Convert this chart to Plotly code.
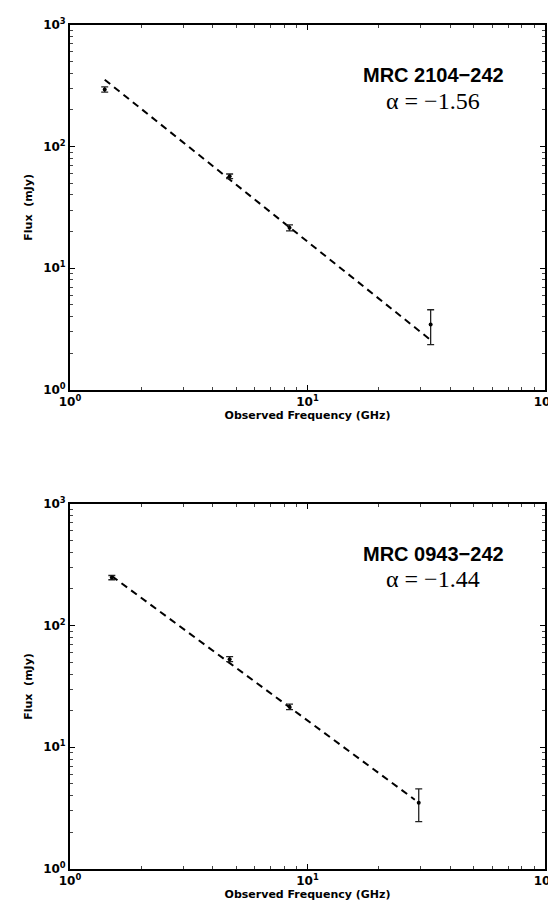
import plotly.graph_objects as go

# ---- data ----
top_name = "MRC 2104\u2212242"
top_alpha_label = "\u03b1 = \u22121.56"
top_freq = [1.4, 4.7, 8.4, 33.0]
top_flux = [295, 57, 21.5, 3.45]
top_err = [15, 2.5, 1.2, 1.1]
top_fit_freq = [1.4, 32.5]
top_fit_norm = 355
top_alpha = -1.56

bot_name = "MRC 0943\u2212242"
bot_alpha_label = "\u03b1 = \u22121.44"
bot_freq = [1.5, 4.7, 8.4, 29.4]
bot_flux = [248, 53, 21.5, 3.5]
bot_err = [10, 2.5, 1.1, 1.05]
bot_fit_freq = [1.5, 28.3]
bot_fit_norm = 255
bot_alpha = -1.44

x_tickvals = [1, 10, 100]
x_ticktext = ["10<sup>0</sup>", "10<sup>1</sup>", "10<sup>2</sup>"]
y_tickvals = [1, 10, 100, 1000]
y_ticktext = ["10<sup>0</sup>", "10<sup>1</sup>", "10<sup>2</sup>", "10<sup>3</sup>"]
x_title = "Observed Frequency (GHz)"
y_title = "Flux  (mJy)"

minor_x = [2, 3, 4, 5, 6, 7, 8, 9, 20, 30, 40, 50, 60, 70, 80, 90]
minor_y = [2, 3, 4, 5, 6, 7, 8, 9, 20, 30, 40, 50, 60, 70, 80, 90,
           200, 300, 400, 500, 600, 700, 800, 900]

fig = go.Figure()

panels = [
    ("x", "y", top_freq, top_flux, top_err, top_fit_freq, top_fit_norm, top_alpha),
    ("x2", "y2", bot_freq, bot_flux, bot_err, bot_fit_freq, bot_fit_norm, bot_alpha),
]
for xa, ya, fr, fl, er, ffr, fnorm, alpha in panels:
    fit_y = [fnorm * (f / ffr[0]) ** alpha for f in ffr]
    fig.add_trace(go.Scatter(
        x=ffr, y=fit_y, mode="lines", xaxis=xa, yaxis=ya,
        line=dict(color="black", width=2, dash="7px,5px"),
        showlegend=False, hoverinfo="skip"))
    fig.add_trace(go.Scatter(
        x=fr, y=fl, mode="markers", xaxis=xa, yaxis=ya,
        marker=dict(color="black", size=4),
        error_y=dict(type="data", array=er, visible=True,
                     color="#222222", thickness=1.3, width=3.5),
        showlegend=False))

tickfont = dict(family="DejaVu Sans", size=12, color="black", weight="bold")
titlefont = dict(family="DejaVu Sans", size=11, color="black", weight="bold")

def xaxis(domain_anchor):
    return dict(
        type="log", range=[0, 2], anchor=domain_anchor,
        showgrid=False, zeroline=False,
        showline=True, linecolor="black", linewidth=1.8, mirror="ticks",
        ticks="inside", ticklen=5, tickwidth=1, tickcolor="black",
        tickvals=x_tickvals, ticktext=x_ticktext, tickfont=tickfont,
        minor=dict(tickvals=minor_x, ticks="inside", ticklen=3,
                   tickwidth=1, tickcolor="#444444", showgrid=False),
        title=dict(text=x_title, font=titlefont, standoff=1),
    )

def yaxis(domain, anchor):
    return dict(
        type="log", range=[0, 3], domain=domain, anchor=anchor,
        showgrid=False, zeroline=False,
        showline=True, linecolor="black", linewidth=1.8, mirror="ticks",
        ticks="inside", ticklen=5, tickwidth=1, tickcolor="black",
        tickvals=y_tickvals, ticktext=y_ticktext, tickfont=tickfont,
        minor=dict(tickvals=minor_y, ticks="inside", ticklen=3,
                   tickwidth=1, tickcolor="#444444", showgrid=False),
        title=dict(text=y_title, font=titlefont, standoff=8),
    )

fig.update_layout(
    width=556, height=900,
    margin=dict(l=62, r=17, t=8, b=39),
    paper_bgcolor="white", plot_bgcolor="white",
    xaxis=xaxis("y"),
    yaxis=yaxis([0.5678, 1.0], "x"),
    xaxis2=xaxis("y2"),
    yaxis2=yaxis([0.0, 0.4326], "x2"),
)

name_font = dict(family="Liberation Sans", size=20, color="black", weight="bold")
alpha_font = dict(family="Liberation Serif", size=24, color="black")
for xr, yr, nm, al in [("x domain", "y domain", top_name, top_alpha_label),
                       ("x2 domain", "y2 domain", bot_name, bot_alpha_label)]:
    fig.add_annotation(x=0.765, y=0.864, xref=xr, yref=yr, text=nm,
                       showarrow=False, font=name_font,
                       xanchor="center", yanchor="middle")
    fig.add_annotation(x=0.765, y=0.793, xref=xr, yref=yr, text=al,
                       showarrow=False, font=alpha_font,
                       xanchor="center", yanchor="middle")

fig.write_html("out.html")
